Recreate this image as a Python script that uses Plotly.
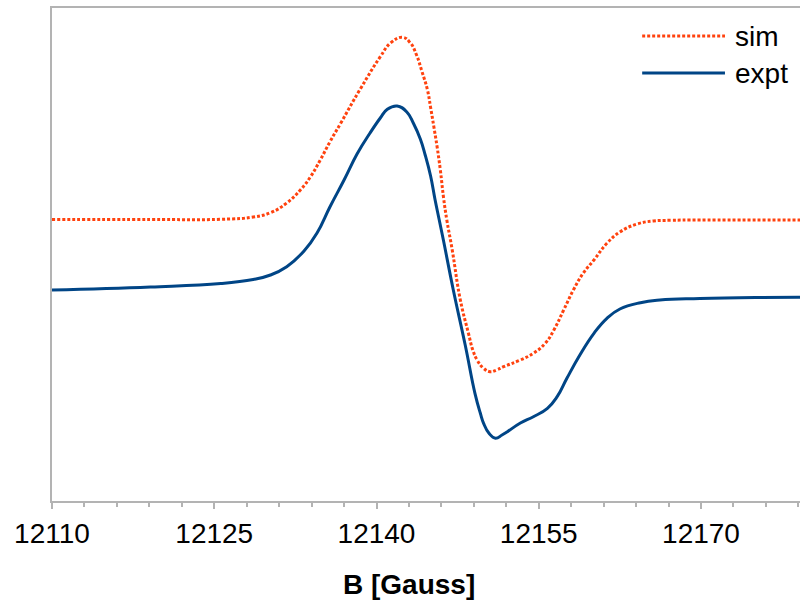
import plotly.graph_objects as go

# ---- data ----
b_sim = [12110.0, 12119.1, 12125.6, 12128.6, 12130.2, 12131.7, 12133.0, 12133.9, 12134.8,
         12135.7, 12136.7, 12138.5, 12140.35, 12141.3, 12142.4, 12143.1, 12143.7, 12144.2,
         12144.7, 12145.0, 12145.3, 12145.6, 12145.9, 12146.2, 12146.5, 12147.0, 12147.75,
         12148.5, 12148.9, 12149.3, 12149.9, 12150.5, 12151.1, 12151.75, 12153.3, 12154.5,
         12155.6, 12156.4, 12157.3, 12158.2, 12159.1, 12160.1, 12161.3, 12162.5, 12164.1,
         12165.6, 12167.2, 12169.9, 12179.2]
sim = [281.5, 281.5, 281.7, 284.0, 288.3, 298.0, 311.5, 324.3, 341.0,
       359.3, 378.0, 412.0, 444.3, 458.0, 463.7, 458.5, 446.0, 429.5,
       411.5, 393.5, 374.3, 354.3, 331.0, 303.0, 281.0, 251.0, 201.0,
       167.7, 151.0, 141.0, 132.7, 129.3, 131.0, 134.3, 141.0, 147.7,
       157.7, 171.0, 191.0, 211.0, 227.7, 241.0, 257.7, 269.0, 277.0,
       280.0, 280.7, 281.0, 281.0]

b_expt = [12110.0, 12119.1, 12125.6, 12128.6, 12130.2, 12131.7, 12133.3, 12134.5, 12135.7,
          12137.0, 12138.2, 12139.4, 12140.35, 12141.0, 12141.9, 12142.8, 12143.4, 12144.05,
          12144.5, 12145.0, 12145.4, 12145.8, 12146.2, 12147.1, 12148.2, 12149.1, 12149.6,
          12149.9, 12150.4, 12151.0, 12151.6, 12152.1, 12153.3, 12154.5, 12155.8, 12156.7,
          12157.6, 12158.8, 12160.1, 12161.3, 12162.5, 12164.4, 12166.2, 12169.9, 12175.5,
          12179.2]
expt = [211.0, 214.0, 217.5, 221.5, 226.0, 234.3, 250.0, 268.0, 294.3,
        321.0, 347.0, 368.0, 383.0, 391.7, 395.0, 389.0, 378.0, 362.0,
        346.0, 325.0, 302.0, 281.0, 260.0, 211.0, 156.0, 107.7, 87.7,
        77.7, 67.7, 62.7, 66.0, 69.3, 78.0, 84.3, 92.7, 104.3,
        122.7, 146.0, 167.7, 182.7, 192.0, 198.3, 201.0, 202.5, 203.5,
        203.7]

series_names = ["sim", "expt"]
series_colors = ["#ff420e", "#004586"]
series_dash = ["3px,2px", "solid"]

x_tick_vals = [12110, 12125, 12140, 12155, 12170]
x_tick_text = ["12110", "12125", "12140", "12155", "12170"]
x_title = "B [Gauss]"

FONT = "Liberation Sans, Arial, sans-serif"

fig = go.Figure()
for xs, ys, name, col, dash in [(b_sim, sim, series_names[0], series_colors[0], series_dash[0]),
                                (b_expt, expt, series_names[1], series_colors[1], series_dash[1])]:
    fig.add_trace(go.Scatter(x=xs, y=ys, mode="lines", name=name, showlegend=False,
                             line=dict(color=col, width=3, dash=dash, shape="spline", smoothing=1.3)))

# custom legend (long line samples like the reference)
leg_y = [0.943, 0.868]
for i, (name, col, dash) in enumerate(zip(series_names, series_colors, series_dash)):
    fig.add_shape(type="line", xref="paper", yref="paper", x0=0.789, x1=0.8997,
                  y0=leg_y[i], y1=leg_y[i], line=dict(color=col, width=3, dash=dash))
    fig.add_annotation(x=0.910, y=leg_y[i], xref="paper", yref="paper", text=name,
                       showarrow=False, xanchor="left", yanchor="middle",
                       font=dict(family=FONT, size=28, color="#000000"))

fig.add_annotation(x=0.477, y=-0.170, xref="paper", yref="paper", text="<b>" + x_title + "</b>",
                   showarrow=False, xanchor="center", yanchor="middle",
                   font=dict(family=FONT, size=28, color="#000000"))

fig.update_xaxes(range=[12110, 12179.15], tickvals=x_tick_vals, ticktext=x_tick_text,
                 showline=True, linecolor="#b3b3b3", linewidth=2, mirror=True,
                 ticks="outside", ticklen=6, tickcolor="#b3b3b3", tickwidth=2,
                 minor=dict(dtick=3, tick0=12110, ticks="outside", ticklen=4,
                            tickcolor="#b3b3b3", tickwidth=2, showgrid=False),
                 showgrid=False, zeroline=False,
                 tickfont=dict(family=FONT, size=28, color="#000000"))
fig.update_yaxes(range=[0, 493], showline=True, linecolor="#b3b3b3", linewidth=2,
                 showticklabels=False, ticks="", showgrid=False, zeroline=False)

fig.update_layout(width=800, height=602, margin=dict(l=52, r=0, t=8, b=101),
                  paper_bgcolor="white", plot_bgcolor="white",
                  font=dict(family=FONT), showlegend=False)

fig.write_html("out.html")
